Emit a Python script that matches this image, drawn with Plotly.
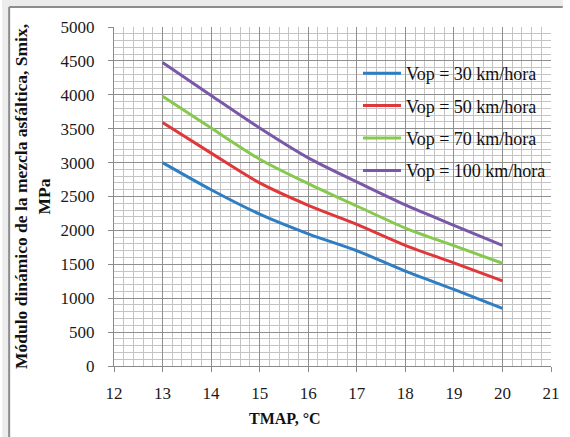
import plotly.graph_objects as go

tmap = [13, 14, 15, 16, 17, 18, 19, 20]
s30 = [3000, 2600, 2240, 1950, 1700, 1400, 1130, 850]
s50 = [3590, 3140, 2700, 2370, 2090, 1780, 1520, 1255]
s70 = [3980, 3510, 3050, 2690, 2360, 2035, 1775, 1515]
s100 = [4475, 3990, 3510, 3070, 2715, 2375, 2075, 1780]
names = ["Vop = 30 km/hora", "Vop = 50 km/hora", "Vop = 70 km/hora", "Vop = 100 km/hora"]
colors = ["#2f7ec4", "#e0383a", "#86c94e", "#7a58a8"]

W, H = 570, 437
ML, MR, MT, MB = 114, 10, 27, 71
PW, PH = W - ML - MR, H - MT - MB

def px(x):
    return (x - ML) / PW

def py(y):
    return (H - MB - y) / PH

FONT = "Liberation Serif"
fig = go.Figure()
for i, (ys, nm, c) in enumerate(zip([s30, s50, s70, s100], names, colors)):
    fig.add_trace(go.Scatter(x=tmap, y=ys, mode="lines", name=nm,
                             line=dict(color=c, width=3, shape="spline", smoothing=0.8),
                             legendgroup=str(i)))

axis_common = dict(showline=True, linecolor="#8a8a8a", linewidth=1,
                   gridcolor="#8f8f8f", gridwidth=1, zeroline=False,
                   ticks="outside", ticklen=5, tickcolor="#8a8a8a",
                   tickfont=dict(family=FONT, size=17, color="#1a1a1a"))
fig.update_xaxes(range=[12, 21], dtick=1, tick0=12,
                 minor=dict(dtick=0.2, showgrid=True, gridcolor="#c4c4c4", gridwidth=1),
                 ticklabelstandoff=7, **axis_common)
fig.update_yaxes(range=[0, 5000], dtick=500, tick0=0,
                 minor=dict(dtick=100, showgrid=True, gridcolor="#c4c4c4", gridwidth=1),
                 ticklabelstandoff=10,
                 title=dict(text="<b>Módulo dinámico de la mezcla asfáltica, Smix,<br>MPa</b>",
                            font=dict(family=FONT, size=17.5, color="#111"), standoff=5),
                 **axis_common)

fig.add_annotation(text="<b>TMAP, °C</b>", xref="paper", yref="paper",
                   x=px(289), y=py(418), xanchor="center", yanchor="middle",
                   showarrow=False, font=dict(family=FONT, size=16, color="#111"))

# outer frame
fig.add_shape(type="rect", xref="paper", yref="paper", x0=px(0), x1=px(W + 2),
              y0=py(0), y1=py(7), fillcolor="#ececec", line_width=0, layer="above")
fig.add_shape(type="rect", xref="paper", yref="paper", x0=px(0), x1=px(7),
              y0=py(0), y1=py(H + 2), fillcolor="#ececec", line_width=0, layer="above")
fig.add_shape(type="line", xref="paper", yref="paper", x0=px(7), x1=px(W + 2),
              y0=py(7), y1=py(7), line=dict(color="#8c8c8c", width=2), layer="above")
fig.add_shape(type="line", xref="paper", yref="paper", x0=px(7), x1=px(7),
              y0=py(7), y1=py(H + 2), line=dict(color="#8c8c8c", width=2), layer="above")

fig.update_layout(
    width=W, height=H,
    margin=dict(l=ML, r=MR, t=MT, b=MB),
    paper_bgcolor="white", plot_bgcolor="white",
    showlegend=True,
    legend=dict(x=px(363), y=py(55), xanchor="left", yanchor="top",
                bgcolor="rgba(0,0,0,0)", borderwidth=0, itemwidth=38,
                font=dict(family=FONT, size=18, color="#111"),
                traceorder="grouped", tracegroupgap=6),
)
fig.write_html("out.html")
